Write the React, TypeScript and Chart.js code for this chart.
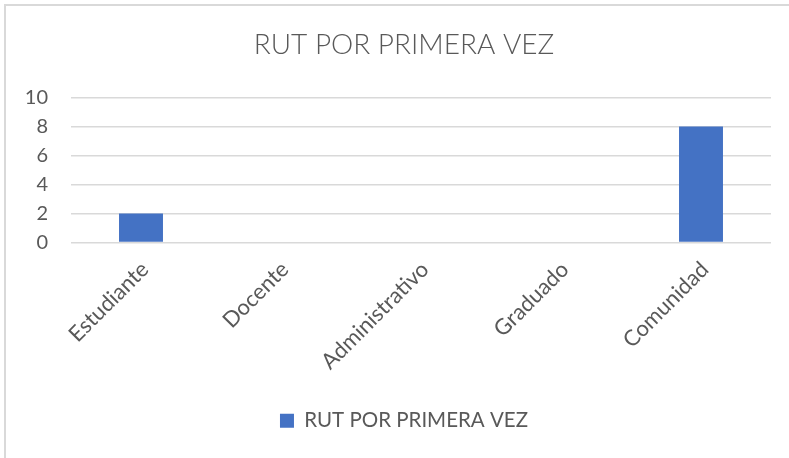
import { useEffect, useRef } from "react";
import { Chart, registerables } from "chart.js";

Chart.register(...registerables);

const categories = ["Estudiante", "Docente", "Administrativo", "Graduado", "Comunidad"];
const seriesName = "RUT POR PRIMERA VEZ";
const values = [2, 0, 0, 0, 8];
const yMin = 0;
const yMax = 10;
const yStep = 2;
const chartTitle = "RUT POR PRIMERA VEZ";

const FONT = "Lato, 'Open Sans', sans-serif";
const TEXT = "#595959";

export default function App() {
  const ref = useRef<HTMLCanvasElement | null>(null);

  useEffect(() => {
    if (!ref.current) return;
    const chart = new Chart(ref.current, {
      type: "bar",
      data: {
        labels: categories,
        datasets: [
          {
            label: seriesName,
            data: values,
            backgroundColor: "#4472C4",
            borderWidth: 0,
            categoryPercentage: 1,
            barPercentage: 0.314,
            yAxisID: "y",
          },
        ],
      },
      options: {
        responsive: false,
        animation: false,
        layout: { padding: { left: 0, right: 0, top: 0, bottom: 17 } },
        plugins: {
          title: {
            display: true,
            text: chartTitle,
            color: TEXT,
            font: { family: FONT, size: 28, weight: "300" as any },
            padding: { top: 28, bottom: 36 },
          },
          legend: {
            display: true,
            position: "bottom",
            labels: {
              color: TEXT,
              font: { family: FONT, size: 20.5 },
              boxWidth: 14,
              boxHeight: 14,
              padding: 10,
            },
          },
          tooltip: { enabled: false },
        },
        scales: {
          x: {
            grid: { display: false },
            border: { display: false },
            ticks: {
              color: TEXT,
              font: { family: FONT, size: 22 },
              maxRotation: 45,
              minRotation: 45,
              padding: 6,
              labelOffset: 4,
            },
            afterFit: (scale: any) => {
              scale.height = 158;
            },
          },
          y: {
            position: "left",
            min: yMin,
            max: yMax,
            ticks: {
              stepSize: yStep,
              color: TEXT,
              font: { family: FONT, size: 20 },
              padding: 23,
            },
            grid: { color: "#d9d9d9", lineWidth: 1.5, drawTicks: false },
            border: { display: false },
            afterFit: (scale: any) => {
              scale.width = 71;
            },
          },
          yRightSpace: {
            position: "right",
            display: true,
            min: yMin,
            max: yMax,
            grid: { display: false, drawTicks: false },
            border: { display: false },
            ticks: { display: false },
            afterFit: (scale: any) => {
              scale.width = 37;
            },
          },
        },
      },
    });
    return () => chart.destroy();
  }, []);

  return (
    <div style={{ position: "fixed", left: 0, top: 0, width: 789, height: 458, background: "#fff", overflow: "hidden" }}>
      <div
        style={{
          position: "absolute",
          left: 4,
          top: 4,
          width: 840,
          height: 520,
          border: "2px solid #d9d9d9",
          boxSizing: "border-box",
        }}
      />
      <canvas ref={ref} width={808} height={458} style={{ position: "absolute", left: 0, top: 0 }} />
    </div>
  );
}
